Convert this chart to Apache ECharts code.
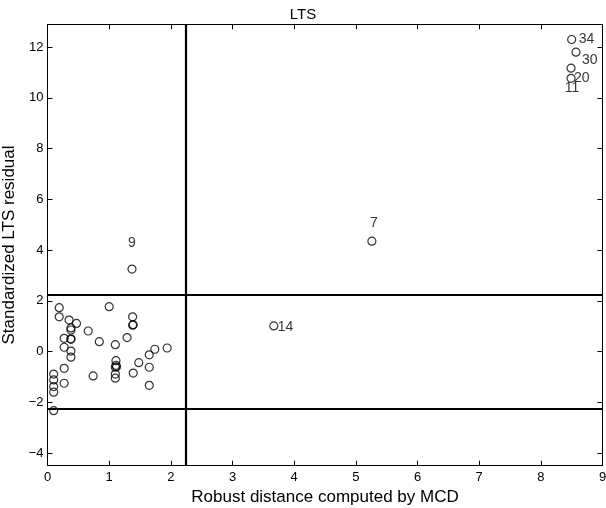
<!DOCTYPE html>
<html>
<head>
<meta charset="utf-8">
<script src="https://cdn.jsdelivr.net/npm/echarts@6/dist/echarts.min.js"></script>
<style>html,body{margin:0;padding:0;background:#fff;}#c{width:606px;height:508px;}</style>
</head>
<body>
<div id="c"></div>
<script>
// Unlabeled points: robust distance (MCD) and standardized LTS residual
const distX = [0.19,0.19,0.35,0.47,0.38,0.38,0.27,0.38,0.38,0.27,0.38,0.38,0.27,0.27,0.10,0.10,0.10,0.10,0.10,0.66,0.84,0.74,1.00,1.10,1.11,1.11,1.10,1.12,1.10,1.10,1.29,1.38,1.39,1.38,1.39,1.48,1.65,1.74,1.94,1.65,1.65];
const resY  = [1.73,1.37,1.24,1.11,0.93,0.85,0.52,0.48,0.50,0.17,0.02,-0.22,-0.66,-1.25,-0.89,-1.12,-1.38,-1.60,-2.33,0.81,0.39,-0.96,1.77,0.27,-0.36,-0.54,-0.62,-0.60,-0.89,-1.05,0.55,1.37,1.06,1.04,-0.85,-0.44,-0.13,0.09,0.14,-0.62,-1.33];
// Labeled (outlying) units
const labNames = ['9','14','7','34','30','20','11'];
const labX = [1.37,3.67,5.26,8.50,8.57,8.49,8.49];
const labY = [3.25,1.01,4.35,12.30,11.80,11.17,10.77];
// Label placement (style only)
const labAlign  = ['center','left','center','left','left','left','center'];
const labOffset = [[0,-26],[4,1],[2,-18],[7,0],[6,8],[3,10],[1,10]];
// Cut-off lines
const cutX = 2.2414, cutY = 2.2414;
const xTicks = [0,1,2,3,4,5,6,7,8,9];
const yTicks = [-4,-2,0,2,4,6,8,10,12];
const xMin = 0, xMax = 9, yMin = -4.5, yMax = 12.9;

const FONT = 'Liberation Sans, Arial, sans-serif';
const chart = echarts.init(document.getElementById('c'), null, {renderer:'canvas'});
const axisLine = {show:true, onZero:false, lineStyle:{color:'#000', width:1}};
const tickIn = {show:true, inside:true, length:5, lineStyle:{color:'#000'}};
const mainData = distX.map((x,i)=>[x,resY[i]]);
const labData = labX.map((x,i)=>({
  value:[x,labY[i]],
  label:{show:true, formatter:labNames[i], position:'inside', align:labAlign[i], verticalAlign:'middle', offset:labOffset[i]}
}));
chart.setOption({
  animation:false,
  backgroundColor:'#fff',
  title:{text:'LTS', left:'center', top:2, textStyle:{fontFamily:FONT, fontSize:15, fontWeight:'normal', color:'#000'}},
  grid:{left:47.5, right:3.5, top:24.3, bottom:42.3, containLabel:false, outerBoundsMode:'none'},
  xAxis:[
    {type:'value', min:xMin, max:xMax, position:'bottom', axisLine:axisLine, splitLine:{show:false},
     axisTick:Object.assign({customValues:xTicks}, tickIn),
     axisLabel:{customValues:xTicks, color:'#000', fontFamily:FONT, fontSize:13, margin:5},
     name:'Robust distance computed by MCD', nameLocation:'middle', nameGap:11,
     nameTextStyle:{fontFamily:FONT, fontSize:17, color:'#000'}},
    {type:'value', min:xMin, max:xMax, position:'top', axisLine:axisLine, splitLine:{show:false},
     axisTick:Object.assign({customValues:xTicks}, tickIn), axisLabel:{show:false}}
  ],
  yAxis:[
    {type:'value', min:yMin, max:yMax, position:'left', axisLine:axisLine, splitLine:{show:false},
     axisTick:Object.assign({customValues:yTicks}, tickIn),
     axisLabel:{customValues:yTicks, color:'#000', fontFamily:FONT, fontSize:13, margin:4,
       formatter:v=>(v<0?'\u2212'+Math.abs(v):String(v))},
     name:'Standardized LTS residual', nameLocation:'middle', nameGap:21,
     nameTextStyle:{fontFamily:FONT, fontSize:17, color:'#000'}},
    {type:'value', min:yMin, max:yMax, position:'right', axisLine:axisLine, splitLine:{show:false},
     axisTick:Object.assign({customValues:yTicks}, tickIn), axisLabel:{show:false}}
  ],
  series:[
    {type:'scatter', data:mainData, symbol:'circle', symbolSize:8,
     itemStyle:{color:'rgba(0,0,0,0)', borderColor:'#000', borderWidth:1.2}, z:3,
     markLine:{silent:true, symbol:['none','none'], label:{show:false},
       lineStyle:{color:'#000', width:2.2, type:'solid'},
       data:[{xAxis:cutX},{yAxis:cutY},{yAxis:-cutY}]}},
    {type:'scatter', data:labData, symbol:'circle', symbolSize:8,
     itemStyle:{color:'rgba(0,0,0,0)', borderColor:'#000', borderWidth:1.2}, z:3,
     label:{color:'#000', fontFamily:FONT, fontSize:14}}
  ]
});
</script>
</body>
</html>
